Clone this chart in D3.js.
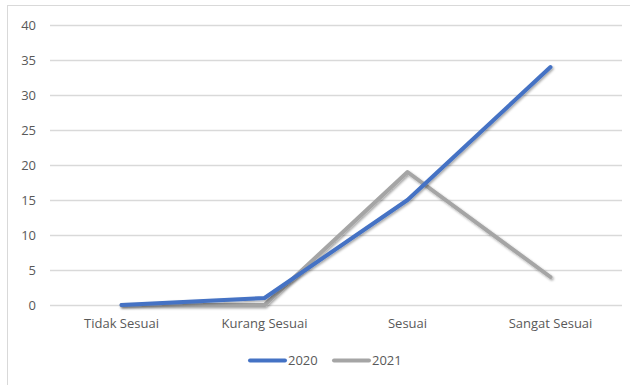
<!DOCTYPE html>
<html>
<head>
<meta charset="utf-8">
<script src="https://cdn.jsdelivr.net/npm/d3@7"></script>
<style>
  html, body { margin: 0; padding: 0; background: #fff; }
  svg { display: block; }
  text { font-family: "Open Sans", "Noto Sans", sans-serif; fill: #595959; }
</style>
</head>
<body>
<svg id="chart" width="630" height="385"></svg>
<script>
// Chart data
const categories = ["Tidak Sesuai", "Kurang Sesuai", "Sesuai", "Sangat Sesuai"];
const seriesNames = ["2020", "2021"];
const values2020 = [0, 1, 15, 34];
const values2021 = [0, 0, 19, 4];
const yTicks = [0, 5, 10, 15, 20, 25, 30, 35, 40];

const colors = { "2020": "#4472C4", "2021": "#A5A5A5" };
const seriesValues = { "2020": values2020, "2021": values2021 };

const W = 630, H = 385;
const plot = { left: 50, right: 622, top: 25, bottom: 305 };

const svg = d3.select("#chart");

// chart frame
svg.append("rect")
  .attr("x", 7.5).attr("y", 5.5)
  .attr("width", W + 10).attr("height", H + 10)
  .attr("fill", "none").attr("stroke", "#D9D9D9").attr("stroke-width", 1);

const x = d3.scaleBand().domain(categories).range([plot.left, plot.right]);
const y = d3.scaleLinear().domain([0, 40]).range([plot.bottom, plot.top]);

// horizontal gridlines
svg.append("g").selectAll("line").data(yTicks).join("line")
  .attr("x1", plot.left).attr("x2", plot.right)
  .attr("y1", d => Math.round(y(d)) + 0.5).attr("y2", d => Math.round(y(d)) + 0.5)
  .attr("stroke", "#D9D9D9").attr("stroke-width", 1.3);

// y axis labels
const yAxis = d3.axisLeft(y).tickValues(yTicks).tickSize(0).tickPadding(0);
const gy = svg.append("g").attr("transform", "translate(36,0)").call(yAxis);
gy.select(".domain").remove();
gy.selectAll("text").attr("font-size", 13).attr("dy", "0.35em")
  .style("font-family", "'Open Sans', sans-serif").attr("fill", "#595959");

// x axis labels
const xAxis = d3.axisBottom(x).tickSize(0).tickPadding(0);
const gx = svg.append("g").attr("transform", `translate(0,${plot.bottom + 14})`).call(xAxis);
gx.select(".domain").remove();
gx.selectAll("text").attr("font-size", 13).attr("dy", "0.71em")
  .style("font-family", "'Open Sans', sans-serif").attr("fill", "#595959");

// soft drop shadow for the lines
const defs = svg.append("defs");
const f = defs.append("filter").attr("id", "shadow")
  .attr("x", "-10%").attr("y", "-10%").attr("width", "130%").attr("height", "130%");
f.append("feDropShadow").attr("dx", 1.2).attr("dy", 1.5).attr("stdDeviation", 1.2)
  .attr("flood-color", "#000").attr("flood-opacity", 0.35);

const line = d3.line()
  .x((d, i) => x(categories[i]) + x.bandwidth() / 2)
  .y(d => y(d));

["2021", "2020"].forEach(name => {
  svg.append("path")
    .datum(seriesValues[name])
    .attr("d", line)
    .attr("fill", "none")
    .attr("stroke", colors[name])
    .attr("stroke-width", 4)
    .attr("stroke-linejoin", "round")
    .attr("stroke-linecap", "round")
    .attr("filter", "url(#shadow)");
});

// legend
const legend = svg.append("g");
const legendItems = [
  { name: "2020", x: 248 },
  { name: "2021", x: 332 }
];
legendItems.forEach(it => {
  legend.append("line")
    .attr("x1", it.x + 2).attr("x2", it.x + 37)
    .attr("y1", 360.5).attr("y2", 360.5)
    .attr("stroke", colors[it.name]).attr("stroke-width", 4)
    .attr("stroke-linecap", "round");
  legend.append("text")
    .attr("x", it.x + 40).attr("y", 360.5).attr("dy", "0.35em")
    .attr("font-size", 13)
    .text(it.name);
});
</script>
</body>
</html>
